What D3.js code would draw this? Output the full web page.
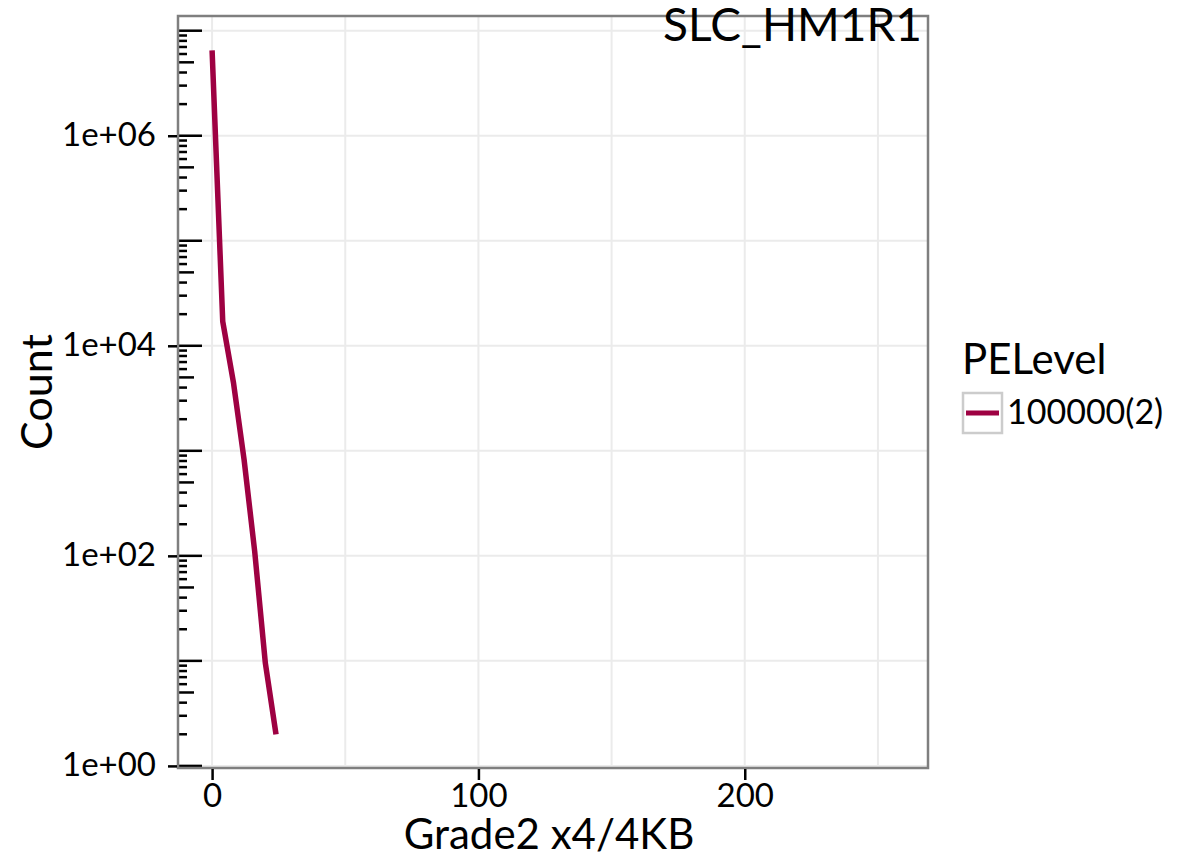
<!DOCTYPE html>
<html>
<head>
<meta charset="utf-8">
<script src="https://cdn.jsdelivr.net/npm/d3@7"></script>
<style>
  html, body { margin: 0; padding: 0; background: #fff; }
  svg { display: block; font-family: Lato, "Open Sans", sans-serif; }
</style>
</head>
<body>
<svg id="chart" width="1188" height="858"></svg>
<script>
// ---- data ----
const grade = [0, 4, 8, 12, 16, 20, 24];
const counts = [6.5e6, 17000, 4500, 830, 110, 9.5, 2];
const seriesName = "100000(2)";
const xTickValues = [0, 100, 200];
const xGridValues = [0, 50, 100, 150, 200, 250];
const yDecades = [0, 1, 2, 3, 4, 5, 6, 7];
const yLabelDecades = [0, 2, 4, 6];
const yTickLabels = ["1e+00", "1e+02", "1e+04", "1e+06"];
const chartTitle = "SLC_HM1R1";
const xTitle = "Grade2 x4/4KB";
const yTitle = "Count";
const legendTitle = "PELevel";

// ---- layout ----
const svg = d3.select("#chart");
const panel = { left: 178, top: 16, right: 928, bottom: 768 };
const lineColor = "#9E0142";

const x = d3.scaleLinear().domain([-12.8, 268.8]).range([panel.left, panel.right]);
const y = d3.scaleLog().domain([Math.pow(10, -0.02), Math.pow(10, 7.14)]).range([panel.bottom, panel.top]);

// gridlines
const grid = svg.append("g");
grid.selectAll("line.vg").data(xGridValues).enter().append("line")
  .attr("x1", d => x(d)).attr("x2", d => x(d))
  .attr("y1", panel.top).attr("y2", panel.bottom)
  .attr("stroke", "#ebebeb").attr("stroke-width", 2);
grid.selectAll("line.hg").data(yDecades).enter().append("line")
  .attr("x1", panel.left).attr("x2", panel.right)
  .attr("y1", d => y(Math.pow(10, d))).attr("y2", d => y(Math.pow(10, d)))
  .attr("stroke", "#ebebeb").attr("stroke-width", 2);

// data line
const line = d3.line().x((d, i) => x(grade[i])).y(d => y(d));
svg.append("path")
  .attr("d", line(counts))
  .attr("fill", "none")
  .attr("stroke", lineColor)
  .attr("stroke-width", 5.5)
  .attr("stroke-linejoin", "round")
  .attr("stroke-linecap", "butt");

// log tick marks inside the panel (annotation_logticks style)
const ticksG = svg.append("g");
const minorVals = [];
yDecades.forEach(k => {
  if (k < 7) for (let m = 2; m <= 9; m++) minorVals.push({ v: m * Math.pow(10, k), len: m === 5 ? 16 : 9 });
});
ticksG.selectAll("line.minor").data(minorVals.filter(d => y(d.v) > panel.top)).enter().append("line")
  .attr("x1", panel.left).attr("x2", d => panel.left + d.len)
  .attr("y1", d => y(d.v)).attr("y2", d => y(d.v))
  .attr("stroke", "#000").attr("stroke-width", 2.5);
ticksG.selectAll("line.major").data(yDecades).enter().append("line")
  .attr("x1", panel.left).attr("x2", panel.left + 24)
  .attr("y1", d => y(Math.pow(10, d))).attr("y2", d => y(Math.pow(10, d)))
  .attr("stroke", "#000").attr("stroke-width", 2.5);

// panel border
svg.append("rect")
  .attr("x", panel.left).attr("y", panel.top)
  .attr("width", panel.right - panel.left).attr("height", panel.bottom - panel.top)
  .attr("fill", "none").attr("stroke", "#7f7f7f").attr("stroke-width", 2.5);

// y axis (labelled decades)
const yAxis = d3.axisLeft(y)
  .tickValues(yLabelDecades.map(k => Math.pow(10, k)))
  .tickFormat((d, i) => yTickLabels[i])
  .tickSizeInner(9).tickSizeOuter(0).tickPadding(12);
const yAxisG = svg.append("g").attr("transform", `translate(${panel.left - 1},0)`).call(yAxis);
yAxisG.select(".domain").remove();
yAxisG.selectAll(".tick line").attr("stroke", "#000").attr("stroke-width", 2.5);
yAxisG.selectAll(".tick text").attr("font-size", 33).attr("fill", "#000")
  .attr("font-family", "Lato, sans-serif").attr("dy", "0.30em");

// x axis
const xAxis = d3.axisBottom(x)
  .tickValues(xTickValues)
  .tickFormat(d3.format("d"))
  .tickSizeInner(11).tickSizeOuter(0).tickPadding(4);
const xAxisG = svg.append("g").attr("transform", `translate(0,${panel.bottom + 1})`).call(xAxis);
xAxisG.select(".domain").remove();
xAxisG.selectAll(".tick line").attr("stroke", "#000").attr("stroke-width", 2.5);
xAxisG.selectAll(".tick text").attr("font-size", 33).attr("fill", "#000")
  .attr("font-family", "Lato, sans-serif").attr("dy", "0.70em");

// axis titles
svg.append("text").text(xTitle)
  .attr("x", (x(0) + x(256)) / 2 - 4).attr("y", 849)
  .attr("text-anchor", "middle").attr("font-size", 42).attr("fill", "#000");
svg.append("text").text(yTitle)
  .attr("transform", `translate(52,${(panel.top + panel.bottom) / 2}) rotate(-90)`)
  .attr("text-anchor", "middle").attr("font-size", 43).attr("fill", "#000");

// chart title (top right, overlapping border)
svg.append("text").text(chartTitle)
  .attr("x", 922).attr("y", 41)
  .attr("text-anchor", "end").attr("font-size", 46).attr("fill", "#000");

// legend
const legend = svg.append("g");
legend.append("text").text(legendTitle)
  .attr("x", 962).attr("y", 374).attr("font-size", 42).attr("fill", "#000");
legend.append("rect")
  .attr("x", 963).attr("y", 393).attr("width", 39).attr("height", 40)
  .attr("fill", "#fff").attr("stroke", "#cccccc").attr("stroke-width", 2.5);
legend.append("line")
  .attr("x1", 966).attr("x2", 999).attr("y1", 413).attr("y2", 413)
  .attr("stroke", lineColor).attr("stroke-width", 5);
legend.append("text").text(seriesName)
  .attr("x", 1007).attr("y", 424).attr("font-size", 34).attr("fill", "#000");
</script>
</body>
</html>
